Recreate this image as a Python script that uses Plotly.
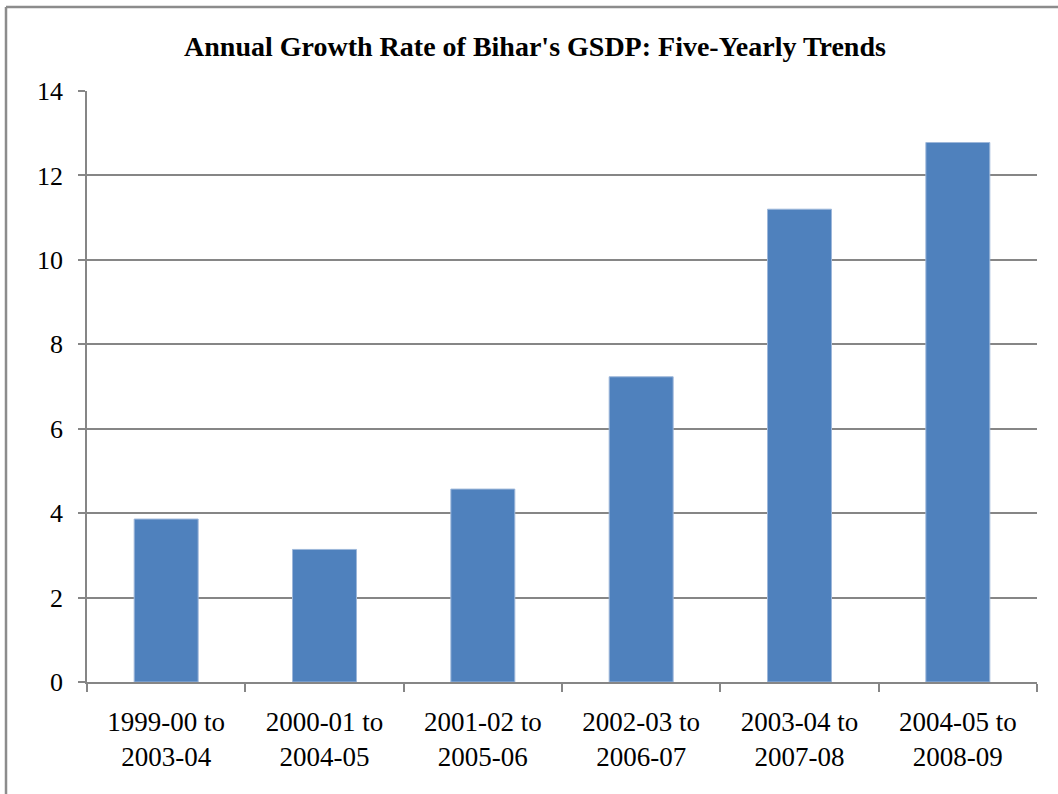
import plotly.graph_objects as go

# Five-year windows and the average annual GSDP growth rate (%) in each
periods = ["1999-00 to<br>2003-04", "2000-01 to<br>2004-05", "2001-02 to<br>2005-06",
           "2002-03 to<br>2006-07", "2003-04 to<br>2007-08", "2004-05 to<br>2008-09"]
growth = [3.86, 3.14, 4.57, 7.23, 11.20, 12.78]
y_ticks = [0, 2, 4, 6, 8, 10, 12, 14]

W, H = 1058, 794
L, R, T, B = 87, 21, 91, 112
FONT = "Liberation Serif"
AXIS_GRAY = "#868686"

fig = go.Figure(
    go.Bar(
        x=periods,
        y=growth,
        marker=dict(color="#4F81BD", line=dict(color="#9DB7DA", width=1)),
        hoverinfo="x+y",
    )
)

plot_w = W - L - R
plot_h = H - T - B

# thin frame around the chart area (left and top edges)
frame = dict(color="#8C8C8C", width=2.5)
fig.add_shape(type="line", xref="paper", yref="paper",
              x0=-(L - 6) / plot_w, x1=-(L - 6) / plot_w,
              y0=1 + (T - 7) / plot_h, y1=-(B + 5) / plot_h, line=frame)
fig.add_shape(type="line", xref="paper", yref="paper",
              x0=-(L - 6) / plot_w, x1=1 + (R + 5) / plot_w,
              y0=1 + (T - 7) / plot_h, y1=1 + (T - 7) / plot_h, line=frame)

fig.update_layout(
    width=W,
    height=H,
    margin=dict(l=L, r=R, t=T, b=B, pad=0),
    paper_bgcolor="white",
    plot_bgcolor="white",
    bargap=0.596,
    showlegend=False,
    font=dict(family=FONT, size=26, color="black"),
    title=dict(
        text="<b>Annual Growth Rate of Bihar's GSDP: Five-Yearly Trends</b>",
        x=535 / W, xref="container", xanchor="center",
        y=1 - 46 / H, yref="container", yanchor="middle",
        font=dict(family=FONT, size=28, color="black"),
    ),
    xaxis=dict(
        showline=True, linecolor=AXIS_GRAY, linewidth=1.5,
        ticks="outside", tickson="boundaries", ticklen=8, tickcolor=AXIS_GRAY, tickwidth=1.5,
        showgrid=False, zeroline=False,
        tickfont=dict(family=FONT, size=27, color="black"),
        ticklabelstandoff=15,
    ),
    yaxis=dict(
        range=[0, 14], tickvals=y_ticks,
        showline=True, linecolor=AXIS_GRAY, linewidth=1.5,
        ticks="outside", ticklen=7, tickcolor=AXIS_GRAY, tickwidth=1.5,
        showgrid=True, gridcolor=AXIS_GRAY, gridwidth=1.5,
        zeroline=False,
        tickfont=dict(family=FONT, size=26, color="black"),
        ticklabelstandoff=10,
    ),
)

fig.write_html("out.html")
